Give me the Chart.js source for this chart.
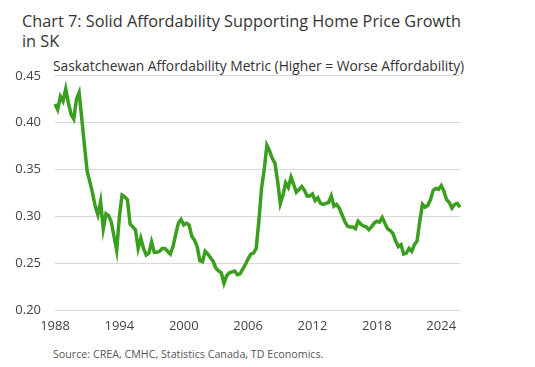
<!DOCTYPE html>
<html>
<head>
<meta charset="utf-8">
<script src="https://cdn.jsdelivr.net/npm/chart.js@4"></script>
<style>
  body { margin: 0; background: #fff; font-family: "Open Sans", sans-serif; }
  #wrap { position: relative; width: 535px; height: 367px; }
  #title { position: absolute; left: 22px; top: 11px; width: 450px; font-size: 16.3px; line-height: 20px; color: #333; }
  #subtitle { position: absolute; left: 53px; top: 56px; font-size: 13.8px; color: #333; white-space: nowrap; }
  #source { position: absolute; left: 53px; top: 347px; font-size: 10.7px; color: #555; white-space: nowrap; }
  #box { position: absolute; left: 0; top: 54px; width: 535px; height: 290px; }
</style>
</head>
<body>
<div id="wrap">
  <div id="title">Chart 7: Solid Affordability Supporting Home Price Growth in SK</div>
  <div id="subtitle">Saskatchewan Affordability Metric (Higher = Worse Affordability)</div>
  <div id="box"><canvas id="chart"></canvas></div>
  <div id="source">Source: CREA, CMHC, Statistics Canada, TD Economics.</div>
</div>
<script>
// quarterly, 1988Q1 - 2025Q4
const startYear = 1988;
const endYear = 2025;
const yearTicks = ['1988', '1994', '2000', '2006', '2012', '2018', '2024'];

const affordability = [
  0.420, 0.414, 0.428, 0.423, 0.436, 0.421, 0.409, 0.404, 0.425, 0.432,
  0.404, 0.375, 0.348, 0.337, 0.325, 0.311, 0.302, 0.316, 0.287, 0.303,
  0.301, 0.294, 0.279, 0.264, 0.300, 0.323, 0.321, 0.318, 0.292, 0.289,
  0.286, 0.266, 0.277, 0.266, 0.259, 0.261, 0.273, 0.262, 0.262, 0.263,
  0.266, 0.266, 0.263, 0.260, 0.268, 0.281, 0.293, 0.297, 0.291, 0.293,
  0.291, 0.279, 0.275, 0.268, 0.253, 0.252, 0.263, 0.260, 0.256, 0.252,
  0.245, 0.242, 0.240, 0.229, 0.237, 0.240, 0.241, 0.242, 0.238, 0.239,
  0.244, 0.249, 0.255, 0.260, 0.261, 0.266, 0.295, 0.330, 0.350, 0.376,
  0.370, 0.362, 0.357, 0.338, 0.314, 0.323, 0.336, 0.331, 0.342, 0.334,
  0.326, 0.329, 0.332, 0.328, 0.322, 0.322, 0.324, 0.317, 0.320, 0.314,
  0.313, 0.314, 0.315, 0.322, 0.311, 0.313, 0.309, 0.302, 0.295, 0.290,
  0.289, 0.289, 0.287, 0.295, 0.292, 0.290, 0.289, 0.286, 0.289, 0.293,
  0.295, 0.294, 0.299, 0.293, 0.287, 0.285, 0.282, 0.274, 0.268, 0.270,
  0.260, 0.261, 0.266, 0.263, 0.270, 0.274, 0.295, 0.313, 0.310, 0.312,
  0.318, 0.328, 0.330, 0.329, 0.333, 0.327, 0.318, 0.315, 0.309, 0.313,
  0.314, 0.310
];

const quarters = [];
for (let y = startYear; y <= endYear; y++) {
  for (let q = 1; q <= 4; q++) quarters.push(y + 'Q' + q);
}

const ctx = document.getElementById('chart').getContext('2d');
const chart = new Chart(ctx, {
  type: 'line',
  data: {
    labels: quarters,
    datasets: [{
      label: 'Saskatchewan Affordability Metric',
      data: affordability,
      borderColor: '#3a9e1f',
      borderWidth: 3.5,
      pointRadius: 0,
      tension: 0,
      fill: false
    }]
  },
  options: {
    animation: false,
    responsive: true,
    maintainAspectRatio: false,
    layout: {
      padding: { top: 10, right: 75, bottom: 10, left: 0 }
    },
    plugins: {
      legend: { display: false },
      tooltip: { enabled: false }
    },
    scales: {
      x: {
        offset: false,
        grid: { display: false },
        border: { display: false },
        ticks: {
          autoSkip: false,
          maxRotation: 0,
          padding: 0,
          color: '#444',
          font: { family: 'Open Sans', size: 13 },
          callback: function (value, index) {
            const lab = quarters[index];
            if (lab.endsWith('Q1') && yearTicks.includes(lab.slice(0, 4))) return lab.slice(0, 4);
            return null;
          }
        }
      },
      y: {
        min: 0.20,
        max: 0.45,
        afterFit: function (scale) { scale.width = 55; },
        grid: { color: '#d9d9d9', lineWidth: 1, drawTicks: false },
        border: { display: false },
        ticks: {
          stepSize: 0.05,
          padding: 14,
          color: '#444',
          font: { family: 'Open Sans', size: 13 },
          callback: function (v) { return v.toFixed(2); }
        }
      }
    }
  }
});
</script>
</body>
</html>
